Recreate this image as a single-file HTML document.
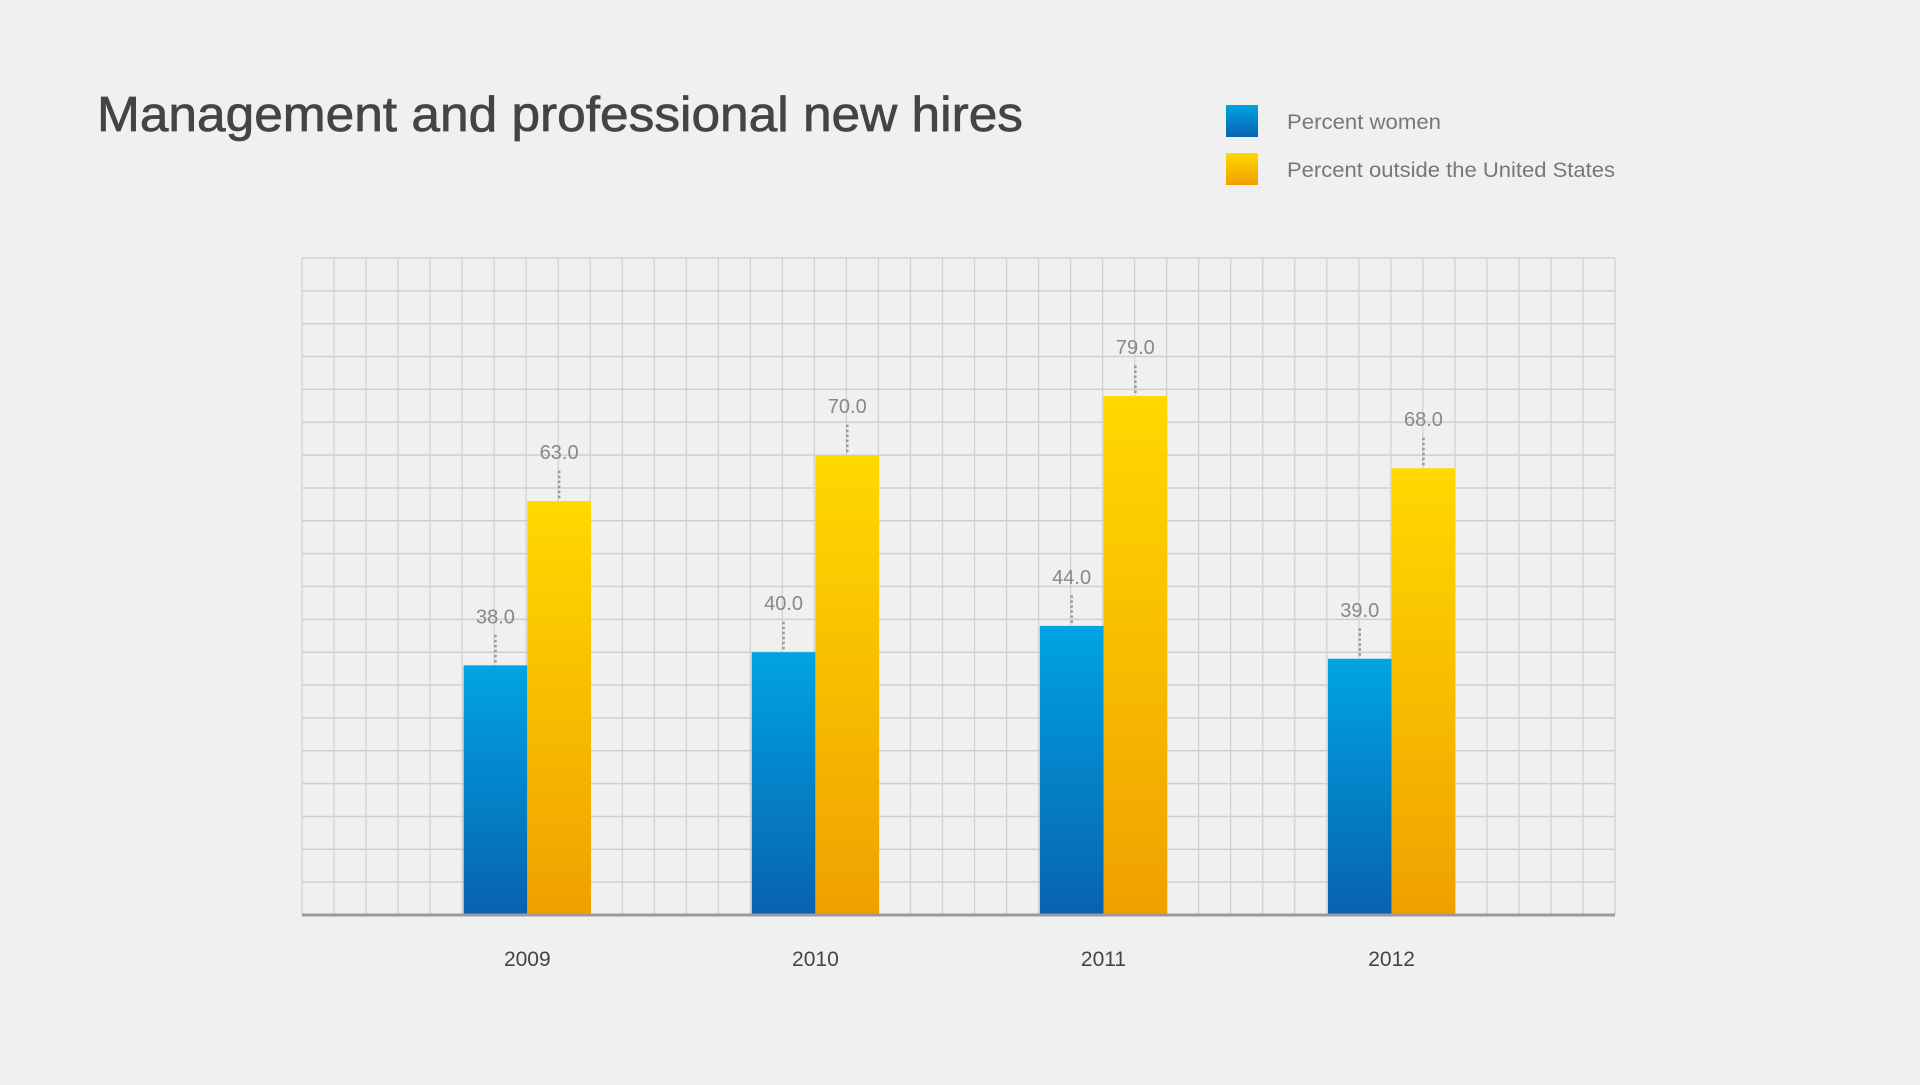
<!DOCTYPE html>
<html><head><meta charset="utf-8">
<style>
html,body{margin:0;padding:0;background:#f0f0f0;}
body{width:1920px;height:1080px;overflow:hidden;font-family:"Liberation Sans",sans-serif;}
</style></head>
<body>
<svg id="chart" width="1920" height="1080" xmlns="http://www.w3.org/2000/svg">
<defs>
<linearGradient id="gBlue" x1="0" y1="0" x2="0" y2="1"><stop offset="0" stop-color="#00a4e2"/><stop offset="1" stop-color="#0862b0"/></linearGradient>
<linearGradient id="gYel" x1="0" y1="0" x2="0" y2="1"><stop offset="0" stop-color="#ffd900"/><stop offset="1" stop-color="#f0a000"/></linearGradient>
</defs>
<text x="97" y="131" font-size="49" fill="#444" stroke="#444" stroke-width="0.7" textLength="926" lengthAdjust="spacingAndGlyphs">Management and professional new hires</text>
<rect x="1226" y="105" width="32" height="32" fill="url(#gBlue)"/>
<text x="1287" y="129" font-size="21" fill="#777" textLength="154" lengthAdjust="spacingAndGlyphs">Percent women</text>
<rect x="1226" y="153" width="32" height="32" fill="url(#gYel)"/>
<text x="1287" y="177" font-size="21" fill="#777" textLength="328" lengthAdjust="spacingAndGlyphs">Percent outside the United States</text>
<g id="grid"></g>
<g id="bars"></g>
</svg>
<script>
const years = ["2009","2010","2011","2012"];
const women = [38.0, 40.0, 44.0, 39.0];
const outside = [63.0, 70.0, 79.0, 68.0];
const yMax = 100;

const L=302, R=1615, T=258, B=915;
const svg=document.getElementById('chart');
const NS='http://www.w3.org/2000/svg';
function y(v){return B-(v/yMax)*(B-T);}
function gx(i){return L+225.3+i*288.1;}
const bw=63.7;
function mk(tag,attrs,parent){const e=document.createElementNS(NS,tag);for(const k in attrs)e.setAttribute(k,attrs[k]);parent.appendChild(e);return e;}
const grid=document.getElementById('grid');
for(let i=0;i<=41;i++){
  const x=L+i*(R-L)/41;
  const l=mk('line',{x1:x,x2:x,y1:T,y2:B,stroke:'#d2d2d2','stroke-width':1.3},grid);
  
  
}
for(let i=0;i<20;i++){
  const yy=T+i*(B-T)/20;
  const l=mk('line',{x1:L,x2:R,y1:yy,y2:yy,stroke:'#cfcfcf','stroke-width':1.5},grid);
  
  
}
const bars=document.getElementById('bars');
function bar(x,v,fill,name){
  const r=mk('rect',{x:x,y:y(v),width:bw,height:B-y(v),fill:fill},bars);
  
  
  const cx=x+bw/2;
  const ld=mk('line',{x1:cx,x2:cx,y1:y(v)-3,y2:y(v)-33,stroke:'#999','stroke-width':2.5,'stroke-dasharray':'2.5 2.5'},bars);
  
  
  const t=mk('text',{x:cx,y:y(v)-42,'text-anchor':'middle','font-size':20,fill:'#888'},bars);
  t.textContent=v.toFixed(1);
  
  
}
years.forEach((yr,i)=>{
  const c=gx(i);
  bar(c-bw,women[i],'url(#gBlue)','bar-women-'+yr);
  bar(c,outside[i],'url(#gYel)','bar-outside-'+yr);
  const t=mk('text',{x:c,y:966,'text-anchor':'middle','font-size':21,fill:'#444'},bars);
  t.textContent=yr;
  
  
});
const base=mk('line',{x1:L,x2:R,y1:B,y2:B,stroke:'#9a9a9a','stroke-width':3},svg);


</script>
</body></html>
